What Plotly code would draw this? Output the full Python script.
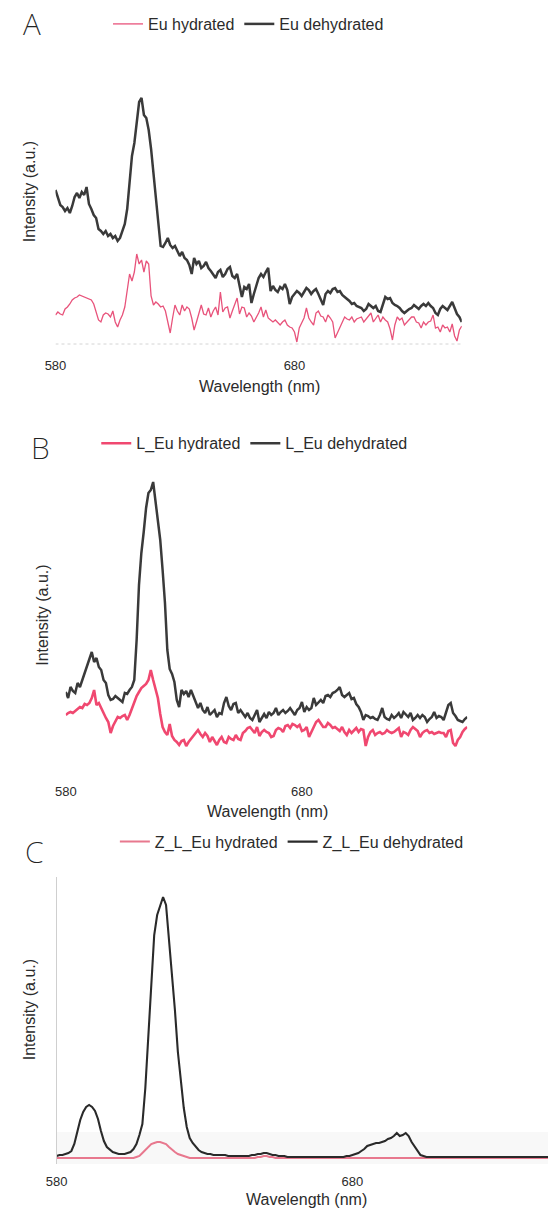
import plotly.graph_objects as go

# Emission spectra, 1 nm steps (intensity in arbitrary units)
wavelength = list(range(580, 751))

eu_hydrated = [
    29, 32, 30, 29, 35, 37, 40, 44, 46, 47,
    49, 48, 47, 46, 45, 44, 40, 32, 24, 22,
    29, 31, 30, 27, 33, 22, 17, 24, 29, 37,
    55, 70, 63, 72, 90, 80, 84, 72, 83, 80,
    48, 39, 42, 40, 37, 38, 33, 20, 11, 26,
    39, 33, 29, 39, 33, 37, 35, 26, 14, 22,
    32, 39, 30, 29, 36, 27, 33, 37, 29, 52,
    32, 36, 37, 26, 33, 39, 46, 30, 37, 36,
    27, 31, 28, 22, 26, 31, 37, 27, 34, 26,
    24, 22, 24, 21, 19, 22, 24, 19, 17, 16,
    12, 2, 16, 21, 26, 36, 26, 22, 19, 31,
    33, 28, 27, 22, 29, 26, 22, 6, 11, 16,
    22, 27, 25, 24, 27, 22, 25, 26, 27, 22,
    25, 27, 31, 22, 26, 29, 22, 27, 24, 22,
    15, 4, 19, 27, 24, 26, 19, 22, 25, 27,
    27, 22, 21, 16, 22, 19, 22, 23, 29, 16,
    17, 12, 19, 16, 17, 12, 20, 8, 3, 14,
    18,
]
eu_dehydrated = [
    154, 146, 139, 137, 133, 136, 131, 138, 147, 151,
    146, 152, 149, 157, 140, 135, 129, 126, 115, 113,
    110, 113, 108, 110, 106, 108, 103, 106, 113, 120,
    135, 160, 188, 201, 225, 242, 246, 229, 226, 214,
    195, 168, 142, 122, 98, 97, 101, 106, 99, 96,
    98, 93, 88, 92, 86, 84, 79, 70, 86, 80,
    83, 76, 78, 82, 76, 73, 70, 66, 72, 74,
    67, 70, 75, 77, 68, 66, 70, 60, 47, 57,
    55, 60, 41, 50, 57, 66, 70, 67, 72, 76,
    53, 58, 54, 52, 57, 55, 60, 54, 40, 47,
    50, 53, 51, 48, 52, 56, 54, 50, 53, 55,
    50, 44, 39, 50, 53, 51, 55, 56, 52, 53,
    49, 47, 45, 43, 40, 41, 38, 37, 36, 33,
    35, 40, 38, 36, 38, 33, 32, 40, 47, 45,
    46, 41, 39, 38, 36, 33, 31, 33, 35, 36,
    39, 37, 35, 38, 40, 38, 41, 38, 36, 31,
    29, 35, 38, 36, 34, 38, 42, 36, 30, 27,
    22,
]

l_eu_hydrated = [
    55, 57, 58, 57, 59, 61, 63, 62, 66, 65,
    67, 72, 80, 65, 67, 62, 56, 52, 48, 37,
    44, 49, 53, 52, 54, 55, 50, 55, 62, 68,
    74, 78, 82, 84, 86, 90, 100, 90, 82, 72,
    56, 43, 38, 35, 46, 34, 30, 28, 25, 29,
    30, 24, 28, 31, 33, 37, 40, 36, 33, 37,
    34, 28, 33, 29, 25, 30, 33, 28, 27, 33,
    31, 30, 35, 31, 30, 37, 39, 42, 43, 40,
    37, 43, 34, 38, 40, 38, 37, 33, 34, 40,
    42, 41, 38, 44, 45, 42, 46, 45, 43, 45,
    39, 40, 43, 33, 38, 42, 48, 50, 46, 43,
    43, 47, 45, 42, 43, 41, 39, 43, 38, 35,
    40, 37, 40, 42, 38, 41, 40, 24, 33, 38,
    40, 35, 37, 38, 36, 37, 40, 38, 37, 38,
    40, 42, 33, 38, 37, 35, 40, 43, 41, 39,
    33, 37, 39, 40, 37, 38, 36, 37, 38, 37,
    37, 33, 39, 40, 27, 24, 30, 33, 38, 41,
    43,
]
l_eu_dehydrated = [
    78, 72, 83, 79, 77, 87, 83, 90, 95, 103,
    110, 118, 108, 112, 103, 100, 90, 87, 75, 70,
    71, 74, 72, 70, 68, 77, 76, 80, 83, 90,
    130, 185, 217, 238, 262, 277, 280, 288, 268, 253,
    230, 200, 167, 120, 101, 96, 88, 70, 63, 80,
    76, 79, 73, 80, 74, 67, 62, 67, 60, 57,
    63, 55, 58, 60, 53, 57, 56, 67, 73, 64,
    60, 66, 67, 57, 60, 56, 53, 57, 52, 50,
    55, 60, 48, 52, 56, 52, 58, 55, 57, 62,
    55, 58, 60, 57, 59, 62, 58, 55, 60, 62,
    68, 58, 63, 60, 62, 72, 65, 68, 70, 67,
    74, 75, 73, 77, 78, 80, 83, 75, 73, 75,
    77, 71, 72, 66, 63, 58, 50, 55, 54, 52,
    53, 51, 50, 55, 62, 53, 51, 50, 55, 52,
    54, 57, 52, 58, 55, 53, 57, 50, 52, 55,
    52, 55, 53, 48, 51, 53, 58, 52, 54, 53,
    50, 57, 65, 67, 57, 54, 50, 49, 48, 51,
    53,
]

z_l_eu_hydrated = [
    2, 2, 2, 2, 2, 2, 2, 2, 2, 2,
    2, 2, 2, 2, 2, 2, 2, 2, 2, 2,
    2, 2, 2, 2, 2, 2, 2, 3, 4, 7,
    10, 14, 16, 17, 18, 18, 17, 16, 13, 10,
    8, 6, 5, 4, 3, 2, 2, 2, 2, 2,
    2, 2, 2, 2, 2, 2, 2, 2, 2, 2,
    2, 2, 2, 2, 2, 2, 2, 2, 3, 3,
    4, 4, 3, 3, 2, 2, 2, 2, 2, 2,
    2, 2, 2, 2, 2, 2, 2, 2, 2, 2,
    2, 2, 2, 2, 2, 2, 2, 2, 2, 2,
    2, 2, 2, 2, 2, 2, 2, 2, 2, 2,
    2, 2, 2, 2, 2, 2, 2, 2, 2, 2,
    2, 2, 2, 2, 2, 2, 2, 2, 2, 2,
    2, 2, 2, 2, 2, 2, 2, 2, 2, 2,
    2, 2, 2, 2, 2, 2, 2, 2, 2, 2,
    2, 2, 2, 2, 2, 2, 2, 2, 2, 2,
    2, 2, 2, 2, 2, 2, 2, 2, 2, 2,
    2,
]
z_l_eu_dehydrated = [
    4, 5, 5, 6, 7, 9, 16, 28, 40, 48,
    53, 55, 53, 49, 41, 29, 19, 13, 10, 8,
    7, 6, 6, 6, 7, 8, 11, 16, 25, 36,
    72, 122, 172, 225, 245, 255, 263, 255, 222, 188,
    150, 108, 78, 52, 33, 22, 17, 13, 10, 8,
    7, 6, 6, 5, 5, 5, 5, 5, 4, 4,
    4, 4, 4, 4, 4, 4, 5, 5, 6, 6,
    7, 7, 6, 5, 5, 4, 4, 4, 3, 3,
    3, 3, 3, 3, 3, 3, 3, 3, 3, 3,
    3, 3, 3, 3, 3, 3, 3, 3, 4, 4,
    5, 6, 7, 9, 11, 14, 15, 16, 17, 17,
    18, 19, 21, 22, 24, 27, 24, 25, 27, 24,
    18, 14, 9, 5, 4, 3, 3, 3, 3, 3,
    3, 3, 3, 3, 3, 3, 3, 3, 3, 3,
    3, 3, 3, 3, 3, 3, 3, 3, 3, 3,
    3, 3, 3, 3, 3, 3, 3, 3, 3, 3,
    3, 3, 3, 3, 3, 3, 3, 3, 3, 3,
    3,
]

series_names = [
    ("Eu hydrated", "Eu dehydrated"),
    ("L_Eu hydrated", "L_Eu dehydrated"),
    ("Z_L_Eu hydrated", "Z_L_Eu dehydrated"),
]
tick_values = [580, 680]
panel_letters = ["A", "B", "C"]

W, H = 548, 1210
FONT = "Liberation Sans, Arial, sans-serif"
TEXT = "#2b2b2b"


def fx(px):
    return px / W


def fy(py):
    return 1 - py / H


fig = go.Figure()

panels = [
    dict(hyd=eu_hydrated, dehyd=eu_dehydrated, pink="#e8537b", pw=1.3,
         dark="#3a3a3a", dw=2.5,
         xpx=(45.4, 460.0), ypx=(348, 84), yr=[-4, 260], xr=[580, 750]),
    dict(hyd=l_eu_hydrated, dehyd=l_eu_dehydrated, pink="#f04870", pw=2.6,
         dark="#3a3a3a", dw=2.5,
         xpx=(55.9, 465.6), ypx=(774, 470), yr=[-4, 300], xr=[580, 750]),
    dict(hyd=z_l_eu_hydrated, dehyd=z_l_eu_dehydrated, pink="#e8788e", pw=2.0,
         dark="#2a2a2a", dw=2.1,
         xpx=(46.5, 548.0), ypx=(1164, 877), yr=[-4, 283], xr=[580, 746.1]),
]

legend_pos = [(99, 24), (87, 443.3), (106, 841.7)]

layout_axes = {}
for i, p in enumerate(panels):
    n = "" if i == 0 else str(i + 1)
    leg = "legend" if i == 0 else f"legend{i + 1}"
    hyd_name, dehyd_name = series_names[i]
    fig.add_trace(go.Scatter(
        x=wavelength, y=p["hyd"], name=hyd_name, mode="lines",
        line=dict(color=p["pink"], width=p["pw"]),
        xaxis=f"x{n}", yaxis=f"y{n}", legend=leg,
    ))
    fig.add_trace(go.Scatter(
        x=wavelength, y=p["dehyd"], name=dehyd_name, mode="lines",
        line=dict(color=p["dark"], width=p["dw"]),
        xaxis=f"x{n}", yaxis=f"y{n}", legend=leg,
    ))
    layout_axes[f"xaxis{n}"] = dict(
        domain=[fx(p["xpx"][0]), fx(p["xpx"][1])], range=p["xr"],
        anchor=f"y{n}", tickvals=tick_values, ticks="outside", ticklen=5,
        tickcolor="rgba(0,0,0,0)", showgrid=False, zeroline=False,
        showline=False, tickfont=dict(size=13, color=TEXT, family=FONT),
    )
    layout_axes[f"yaxis{n}"] = dict(
        domain=[fy(p["ypx"][0]), fy(p["ypx"][1])], range=p["yr"],
        anchor=f"x{n}", showticklabels=False, showgrid=False,
        zeroline=False, ticks="",
        showline=(i == 2), linecolor="#cfcfcf", linewidth=1,
    )
    lx, ly = legend_pos[i]
    layout_axes[leg] = dict(
        x=fx(lx), y=fy(ly), xanchor="left", yanchor="middle",
        orientation="h", bgcolor="rgba(0,0,0,0)", borderwidth=0,
        font=dict(size=16, color=TEXT, family=FONT),
    )

annotations = []
# axis titles
for cx, cy in [(253.8, 386.7), (262, 811.7), (302, 1199)]:
    annotations.append(dict(
        text="Wavelength (nm)", x=fx(cx), y=fy(cy), xref="paper", yref="paper",
        xanchor="center", yanchor="middle", showarrow=False,
        font=dict(size=16, color=TEXT, family=FONT),
    ))
for cx, cy in [(19, 191.7), (31.4, 615), (19.2, 1009.5)]:
    annotations.append(dict(
        text="Intensity (a.u.)", x=fx(cx), y=fy(cy), xref="paper", yref="paper",
        xanchor="center", yanchor="middle", showarrow=False, textangle=-90,
        font=dict(size=16, color=TEXT, family=FONT),
    ))
# panel letters, in a light weight
for letter, (cx, cy) in zip(panel_letters, [(21, 24), (30, 448), (23.5, 851)]):
    annotations.append(dict(
        text=letter, x=fx(cx), y=fy(cy), xref="paper", yref="paper",
        xanchor="center", yanchor="middle", showarrow=False,
        font=dict(size=30, color="#222222", family="Noto Sans, sans-serif", weight=200),
    ))

shapes = [
    # faint dotted baseline under panel A
    dict(type="line", xref="x", yref="y", x0=580, x1=750, y0=0, y1=0,
         line=dict(color="#d4d4d4", width=1, dash="dot"), layer="below"),
    # light band along the baseline of panel C
    dict(type="rect", xref="x3 domain", yref="y3", x0=0, x1=1, y0=-4, y1=28,
         fillcolor="#f8f8f8", line=dict(width=0), layer="below"),
]

fig.update_layout(
    width=W, height=H, margin=dict(l=0, r=0, t=0, b=0),
    paper_bgcolor="white", plot_bgcolor="rgba(0,0,0,0)",
    font=dict(family=FONT, color=TEXT),
    annotations=annotations, shapes=shapes, showlegend=True,
    **layout_axes,
)

fig.write_html("out.html")
